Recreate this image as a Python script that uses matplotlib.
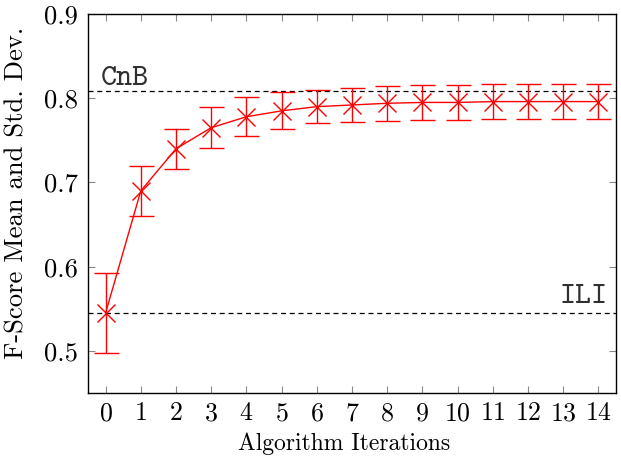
import numpy as np
import matplotlib.pyplot as plt

plt.rcParams['font.family'] = ['cmr10', 'DejaVu Serif']
plt.rcParams['axes.formatter.use_mathtext'] = True
plt.rcParams['mathtext.fontset'] = 'cm'

# F-score mean / std per algorithm iteration
iterations = np.arange(15)
f_mean = [0.545, 0.690, 0.740, 0.765, 0.778, 0.785, 0.790, 0.792, 0.794,
          0.795, 0.795, 0.796, 0.796, 0.796, 0.796]
f_std = [0.047, 0.030, 0.024, 0.024, 0.023, 0.022, 0.020, 0.020, 0.021,
         0.021, 0.021, 0.021, 0.021, 0.021, 0.021]

# baselines
CNB = 0.809
ILI = 0.545

fig = plt.figure(figsize=(6.21, 4.59), dpi=100)
ax = fig.add_axes([0.1417, 0.1438, 0.8503, 0.8257])

ax.axhline(CNB, color='black', linestyle=(0, (4, 3)), linewidth=0.9, zorder=1)
ax.axhline(ILI, color='black', linestyle=(0, (4, 3)), linewidth=0.9, zorder=1)

ax.errorbar(iterations, f_mean, yerr=f_std, color='red', linewidth=1.0,
            marker='x', markersize=13, markeredgewidth=1.0,
            capsize=9, capthick=1.0, elinewidth=1.0, zorder=3)

ax.text(-0.14, 0.8157, 'CnB', family='cmtt10', fontsize=22, color='#303030',
        ha='left', va='baseline')
ax.text(14.27, 0.5569, 'ILI', family='cmtt10', fontsize=22, color='#303030',
        ha='right', va='baseline')

ax.set_xlim(-0.5, 14.5)
ax.set_ylim(0.45, 0.9)
ax.set_xticks(iterations)
ax.set_yticks([0.5, 0.6, 0.7, 0.8, 0.9])
ax.set_yticklabels(['0.5', '0.6', '0.7', '0.8', '0.9'])
ax.tick_params(direction='in', length=5, width=0.8, color='#888888',
               top=True, right=True)
ax.tick_params(axis='x', labelsize=18.6, pad=6)
ax.tick_params(axis='y', labelsize=19.2, pad=7)
ax.set_xlabel('Algorithm Iterations', fontsize=17)
ax.set_ylabel('F-Score Mean and Std. Dev.', fontsize=19.2)
ax.xaxis.set_label_coords(0.484, -0.105)
ax.yaxis.set_label_coords(-0.113, 0.527)
for s in ax.spines.values():
    s.set_linewidth(1.0)

fig.savefig('out.png', dpi=100)
